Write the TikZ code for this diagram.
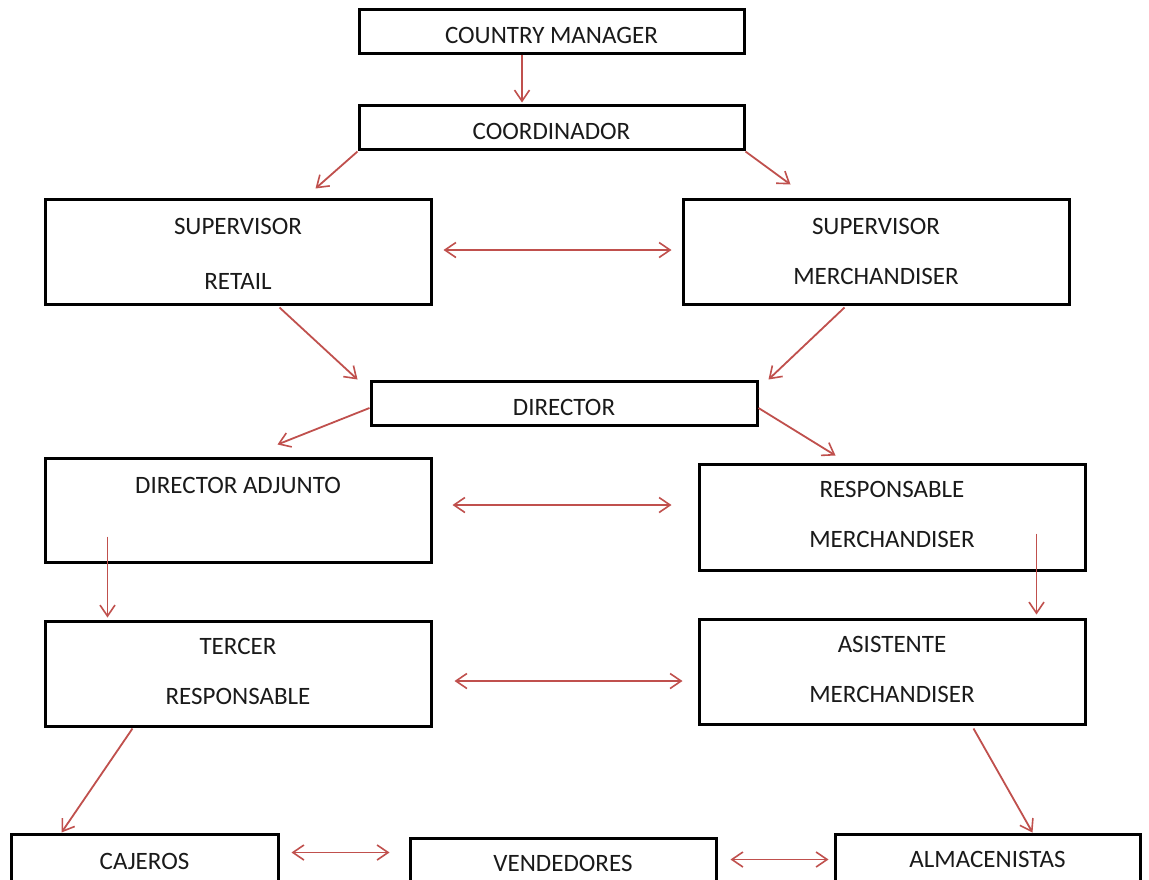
\documentclass[tikz,border=0pt]{standalone}
\usepackage{fontspec}
\setmainfont{Carlito}
\usetikzlibrary{arrows.meta,calc}
\definecolor{arr}{HTML}{C0504D}
\definecolor{txt}{HTML}{1A1A1A}
\newcommand{\lowr}[1]{\raisebox{-4pt}[\height][\depth]{#1}}
\begin{document}
\begin{tikzpicture}[x=1pt,y=-1pt,
  box/.style={draw=black,line width=3pt,rectangle,inner sep=0pt,align=center,
    text=txt,font=\fontsize{25}{50}\selectfont},
  link/.style={draw=arr,line width=1.8pt,-{Straight Barb[length=11pt,width=15pt,line width=1.6pt]}},
  both/.style={draw=arr,line width=1.8pt,{Straight Barb[length=11pt,width=15pt,line width=1.6pt]}-{Straight Barb[length=11pt,width=15pt,line width=1.6pt]}}]
\clip (0,0) rectangle (1149,879);
\fill[white] (0,0) rectangle (1149,879);
\node[box,minimum width=385,minimum height=44] (cm) at (551.5,31) {\lowr{COUNTRY MANAGER}};
\node[box,minimum width=385,minimum height=44] (co) at (551.5,127) {\lowr{COORDINADOR}};
\node[box,minimum width=386,minimum height=105,text height=75.5pt] (sr) at (238,251.5) {SUPERVISOR\\[5pt]RETAIL};
\node[box,minimum width=386,minimum height=105] (sm) at (876,251.5) {SUPERVISOR\\MERCHANDISER};
\node[box,minimum width=386,minimum height=44] (di) at (564,403) {\lowr{DIRECTOR}};
\node[box,minimum width=386,minimum height=104] (da) at (238,510) {DIRECTOR ADJUNTO\\\mbox{}};
\node[box,minimum width=386,minimum height=106,text depth=5pt] (rm) at (892,517) {RESPONSABLE\\MERCHANDISER};
\node[box,minimum width=386,minimum height=105,text depth=5pt] (tr) at (238,673.5) {TERCER\\RESPONSABLE};
\node[box,minimum width=386,minimum height=105,text depth=5pt] (am) at (892,671.5) {ASISTENTE\\MERCHANDISER};
\node[box,minimum width=267,minimum height=104] (ca) at (144.5,886) {CAJEROS\\\mbox{}};
\node[box,minimum width=306,minimum height=100] (ve) at (563,888) {VENDEDORES\\\mbox{}};
\node[box,minimum width=305,minimum height=100] (al) at (987.5,884) {ALMACENISTAS\\\mbox{}};
\draw[link] ($(cm.south)+(-29.5,0)$) -- ($(co.north)+(-29.5,-1)$);
\draw[link] ($(co.south west)+(0,1)$) -- ($(sr.north west)+(272,-9)$);
\draw[link] ($(co.south east)+(0,1)$) -- ($(sm.north west)+(109,-13)$);
\draw[both] ($(sr.east)+(11,-1.5)$) -- ($(sm.west)+(-10,-1.5)$);
\draw[link] ($(sr.south west)+(236,2)$) -- ($(di.north west)+(-12,0)$);
\draw[link] ($(sm.south west)+(163,2)$) -- ($(di.north east)+(10,0)$);
\draw[link] ($(di.west)+(0,5)$) -- ($(da.north west)+(234,-12)$);
\draw[link] ($(di.east)+(0,5)$) -- ($(rm.north west)+(138,-7)$);
\draw[both] ($(da.east)+(20,-5)$) -- ($(rm.west)+(-26,-12)$);
\draw[link] ($(da.south west)+(64,-27)$) -- ($(tr.north west)+(64,-2)$);
\draw[link] ($(rm.south west)+(339,-38)$) -- ($(am.north west)+(339,-3)$);
\draw[both] ($(tr.east)+(22,7.5)$) -- ($(am.west)+(-15,9.5)$);
\draw[link] ($(tr.south west)+(89,1)$) -- ($(ca.north west)+(52,0)$);
\draw[link] ($(am.south west)+(276,3)$) -- ($(al.north west)+(199,0)$);
\draw[both] ($(ca.north east)+(12,20)$) -- ($(ve.north west)+(-19,16)$);
\draw[both] ($(ve.north east)+(13,23)$) -- ($(al.north west)+(-5,27)$);
\end{tikzpicture}
\end{document}
